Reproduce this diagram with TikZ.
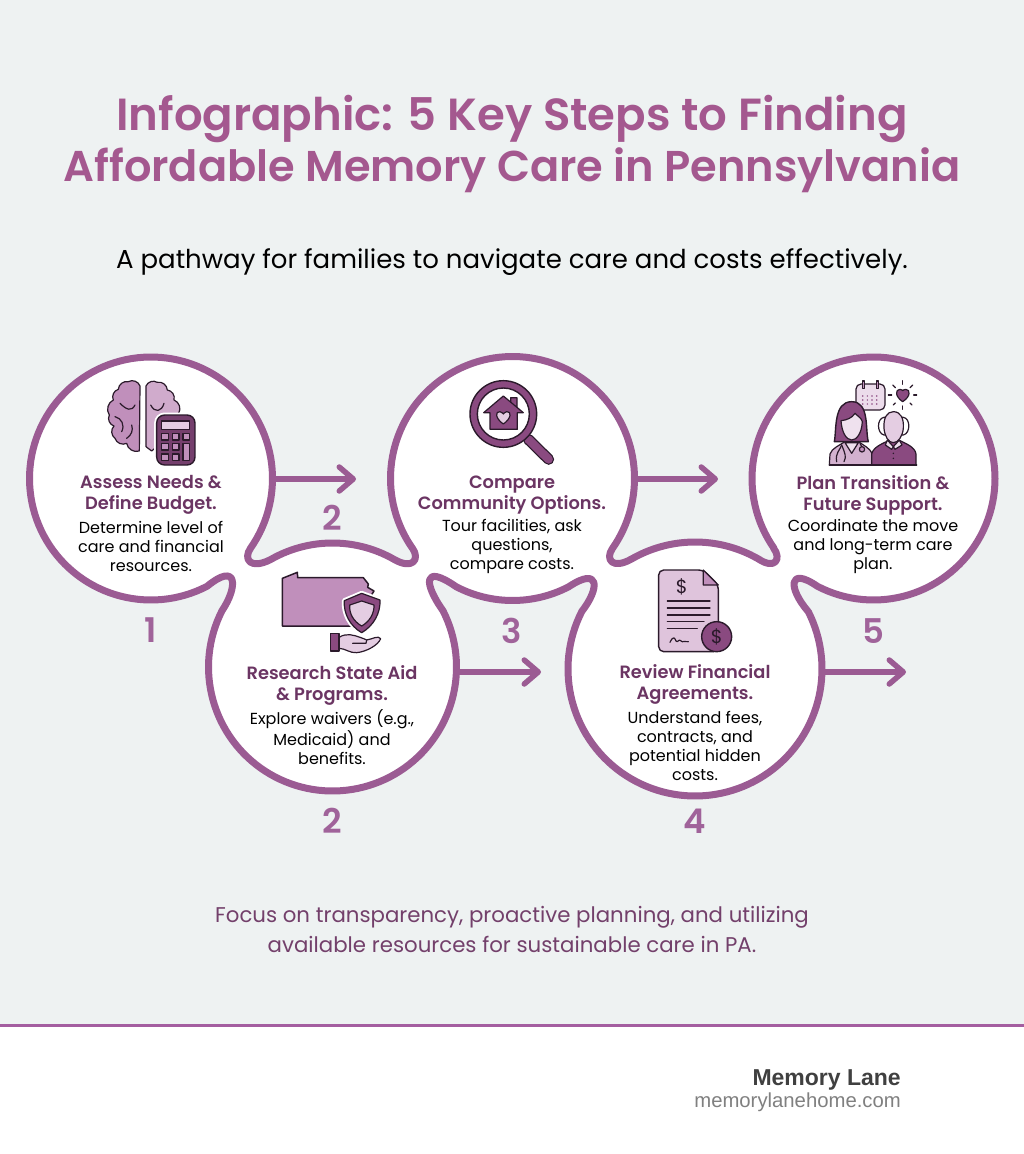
\documentclass[tikz,border=0pt]{standalone}
\usepackage{fontspec}
\usetikzlibrary{arrows.meta}
\setmainfont{Poppins}[BoldFont={Poppins SemiBold}]
\newfontfamily\footfont{Liberation Sans}
\definecolor{bgc}{HTML}{EEF2F2}
\definecolor{ringc}{HTML}{9B5B93}
\definecolor{titlec}{HTML}{A4588F}
\definecolor{headc}{HTML}{6B3563}
\definecolor{numc}{HTML}{A0639A}
\definecolor{noteC}{HTML}{73406B}
\definecolor{ruleC}{HTML}{A45EA0}
\definecolor{inkc}{HTML}{2B1A2B}
\definecolor{midc}{HTML}{8A4A80}
\definecolor{softc}{HTML}{C08FBB}
\definecolor{palec}{HTML}{E4CDE2}
\tikzset{
  x=1pt,y=-1pt,
  titletxt/.style={font=\bfseries,text=titlec,align=center,inner sep=0},
  subtxt/.style={font=\fontsize{26}{32}\selectfont,text=black,inner sep=0},
  notetxt/.style={font=\fontsize{21.3}{30}\selectfont,text=noteC,align=center,inner sep=0},
  headtxt/.style={font=\fontsize{17.8}{21}\selectfont\bfseries,text=headc,align=center,inner sep=0},
  bodytxt/.style={font=\fontsize{16}{19}\selectfont,text=black,align=center,inner sep=0},
  numtxt/.style={font=\fontsize{34}{38}\selectfont\bfseries,text=numc,inner sep=0},
  stepring/.style={circle,inner sep=0,outer sep=0,minimum size=#1},
  blob/.style={draw=ringc,fill=white,line width=7pt,line join=round},
  flowarrow/.style={draw=ringc,line width=5.5pt,line cap=round,-{Straight Barb[length=14pt,width=24pt,round]}},
  ic/.style={draw=inkc,line width=1.2pt,line join=round,line cap=round},
  halo/.style={draw=white,line width=5pt,line join=round},
}
\begin{document}
\begin{tikzpicture}
\useasboundingbox (0,0) rectangle (1024,1154);
\fill[bgc] (0,0) rectangle (1024,1025);
\fill[white] (0,1025) rectangle (1024,1154);
\draw[ruleC,line width=3pt] (0,1025) -- (1024,1025);

% titles
\node[titletxt] (title) at (512,144) {\fontsize{45}{53}\selectfont Infographic: 5 Key Steps to Finding\\[4pt]\fontsize{43.1}{53}\selectfont Affordable Memory Care in Pennsylvania};
\node[subtxt] (sub) at (512,262) {A pathway for families to navigate care and costs effectively.};

% step anchors
\node[stepring=243pt] (c1) at (151,478.5) {};
\node[stepring=248pt] (c2) at (332.5,667) {};
\node[stepring=244pt] (c3) at (512.5,478.5) {};
\node[stepring=254pt] (c4) at (695,669) {};
\node[stepring=243pt] (c5) at (873.5,478.5) {};

\coordinate (t1) at (356,479);
\coordinate (t2) at (718,479);
\coordinate (t3) at (541,672);
\coordinate (t4) at (906,672);
\draw[flowarrow] (c1.east |- t1) -- (t1);
\draw[flowarrow] (c3.east |- t2) -- (t2);
\draw[flowarrow] (c2.east |- t3) -- (t3);
\draw[flowarrow] (c4.east |- t4) -- (t4);

% joined outline
\draw[blob]
  plot[domain=62.5:395,samples=120] ({151+121.5*cos(\x)},{478.5+121.5*sin(\x)})
  .. controls (243,559) and (250,570) .. (270.5,559.6)
  -- plot[domain=-120:-60,samples=30] ({332.5+124*cos(\x)},{667+124*sin(\x)})
  .. controls (413,570) and (420,559) .. (412.6,548.4)
  -- plot[domain=145:395,samples=100] ({512.5+122*cos(\x)},{478.5+122*sin(\x)})
  .. controls (605,559) and (612,570) .. (631.5,559)
  -- plot[domain=-120:-60,samples=30] ({695+127*cos(\x)},{669+127*sin(\x)})
  .. controls (775,570) and (782,559) .. (773.5,548)
  -- plot[domain=145:477.5,samples=120] ({873.5+121.5*cos(\x)},{478.5+121.5*sin(\x)})
  .. controls (788,566) and (788,588) .. (808,611.3)
  -- plot[domain=-27:207,samples=90] ({695+127*cos(\x)},{669+127*sin(\x)})
  .. controls (600,588) and (600,566) .. (568.8,586.7)
  -- plot[domain=62.5:117.5,samples=30] ({512.5+122*cos(\x)},{478.5+122*sin(\x)})
  .. controls (422,563) and (424,584) .. (443,610.7)
  -- plot[domain=-27:207,samples=90] ({332.5+124*cos(\x)},{667+124*sin(\x)})
  .. controls (238,587) and (238,561) .. cycle;

% step texts
\node[headtxt] (h1) at (151,495) {Assess Needs \&\\Define Budget.};
\node[bodytxt] (b1) at (151,546) {Determine level of\\care and financial\\resources.};
\node[headtxt] (h2) at (332,685) {Research State Aid\\\& Programs.};
\node[bodytxt] (b2) at (332,737) {Explore waivers (e.g.,\\Medicaid) and\\benefits.};
\node[headtxt] (h3) at (512,495) {Compare\\Community Options.};
\node[bodytxt] (b3) at (512,546) {Tour facilities, ask\\questions,\\compare costs.};
\node[headtxt] (h4) at (695,684) {Review Financial\\Agreements.};
\node[bodytxt] (b4) at (695,745.5) {Understand fees,\\contracts, and\\potential hidden\\costs.};
\node[headtxt] (h5) at (873,495) {Plan Transition \&\\Future Support.};
\node[bodytxt] (b5) at (873,546) {Coordinate the move\\and long-term care\\plan.};

% numbers
\node[numtxt] (n1) at (151,630) {1};
\node[numtxt] (n2a) at (332,518) {2};
\node[numtxt] (n2b) at (332,821) {2};
\node[numtxt] (n3) at (512,631) {3};
\node[numtxt] (n4) at (695,821) {4};
\node[numtxt] (n5) at (873,631) {5};

% closing note
\node[notetxt] (note) at (512,929) {Focus on transparency, proactive planning, and utilizing\\available resources for sustainable care in PA.};

% footer
\node[font=\footfont\fontsize{23}{26}\selectfont\bfseries,text=black!75,anchor=east,inner sep=0] (brand) at (901,1080) {Memory Lane};
\node[font=\footfont\fontsize{20.3}{24}\selectfont,text=black!50,anchor=east,inner sep=0] (site) at (901,1102) {memorylanehome.com};

% ICON 1: brain and calculator
\begin{scope}[shift={(20,350)},scale=0.33333]
  \filldraw[ic,fill=softc] (360,108) to[bend right=50] (325,95) to[bend right=50] (295,118) to[bend right=50] (280,150) to[bend right=50] (268,195) to[bend right=50] (282,228) to[bend right=50] (285,265) to[bend right=50] (320,280) to[bend right=50] (358,303) -- cycle;
  \filldraw[ic,fill=softc!75] (378,108) to[bend left=50] (412,97) to[bend left=50] (442,120) to[bend left=50] (462,150) to[bend left=50] (476,190) -- (470,240) -- (395,303) -- (378,290) -- cycle;
  \draw[ic] (300,160) .. controls (320,180) and (335,185) .. (345,165);
  \draw[ic] (285,200) .. controls (305,205) and (315,225) .. (305,245);
  \draw[ic] (320,265) .. controls (335,255) and (340,240) .. (335,225);
  \draw[ic] (392,165) .. controls (405,190) and (425,185) .. (432,160);
  \filldraw[halo,fill=white,rounded corners=8pt] (410,195) rectangle (525,345);
  \filldraw[ic,fill=midc!85!black,rounded corners=8pt,line width=1.4pt] (410,195) rectangle (525,345);
  \filldraw[ic,fill=palec] (425,213) rectangle (508,238);
  \foreach \bx in {425,457}{\foreach \by in {250,280,312}{\filldraw[ic,fill=softc] (\bx,\by) rectangle ++(20,20);}}
  \filldraw[ic,fill=softc] (489,250) rectangle ++(20,20);
  \filldraw[ic,fill=softc] (489,280) rectangle (509,332);
\end{scope}

% ICON 2: state outline, shield and hand
\begin{scope}[shift={(200,540)},scale=0.33333]
  \filldraw[ic,fill=softc,line width=1.5pt] (247,258) -- (247,115) -- (292,97) -- (293,113) -- (490,113) -- (505,132) -- (503,142) -- (522,153) -- (510,172) -- (500,190) -- (470,258) -- cycle;
  \path[fill=white,draw=white,line width=5pt,line join=round] (485,160) -- (540,180) .. controls (542,220) and (520,258) .. (485,278) .. controls (450,258) and (430,220) .. (433,182) -- cycle;
  \filldraw[ic,fill=midc] (485,160) -- (540,180) .. controls (542,220) and (520,258) .. (485,278) .. controls (450,258) and (430,220) .. (433,182) -- cycle;
  \filldraw[ic,fill=palec] (485,183) -- (522,195) .. controls (523,222) and (508,245) .. (485,258) .. controls (462,245) and (447,222) .. (449,195) -- cycle;
  \filldraw[ic,fill=palec] (417,292) .. controls (440,278) and (460,285) .. (480,292) .. controls (495,297) and (500,300) .. (500,300) .. controls (515,298) and (535,285) .. (542,296) .. controls (535,315) and (500,335) .. (470,338) .. controls (450,340) and (435,325) .. (417,325) -- cycle;
  \draw[ic] (458,310) -- (498,310) -- (500,300);
  \filldraw[ic,fill=midc] (392,280) rectangle (417,333);
\end{scope}

% ICON 3: magnifier over house
\begin{scope}[shift={(380,350)},scale=0.33333]
  \draw[inkc,line width=11pt,line cap=round] (445,268) -- (506,328);
  \draw[midc,line width=8.5pt,line cap=round] (445,268) -- (506,328);
  \filldraw[ic,fill=midc,line width=1.4pt] (370,192) circle [radius=100];
  \filldraw[ic,fill=white,line width=1.4pt] (370,192) circle [radius=78];
  \filldraw[ic,fill=midc] (392,165) -- (392,143) -- (411,143) -- (411,170) -- cycle;
  \filldraw[ic,fill=midc] (330,188) -- (311,188) -- (370,138) -- (430,188) -- (412,188) -- (412,238) -- (330,238) -- cycle;
  \filldraw[ic,fill=palec] (370,222) .. controls (345,205) and (345,183) .. (360,185) .. controls (366,186) and (370,192) .. (370,192) .. controls (370,192) and (374,186) .. (380,185) .. controls (395,183) and (395,205) .. (370,222) -- cycle;
\end{scope}

% ICON 4: document with coin
\begin{scope}[shift={(560,540)},scale=0.33333]
  \filldraw[ic,fill=palec!85!softc,line width=1.4pt,rounded corners=5pt] (296,90) -- (430,90) -- (475,135) -- (475,335) -- (296,335) -- cycle;
  \filldraw[ic,fill=softc] (430,90) -- (430,135) -- (475,135) -- cycle;
  \node[font=\fontsize{19}{20}\selectfont,text=inkc,inner sep=0] (d1) at (365,140) {\$};
  \foreach \ly/\lx in {183/450,204/450,225/450,245/432,265/412}{\draw[ic] (322,\ly) -- (\lx,\ly);}
  \draw[ic] (330,307) .. controls (340,285) and (345,295) .. (348,303) .. controls (352,310) and (358,295) .. (362,302) .. controls (368,310) and (375,300) .. (385,305);
  \filldraw[ic,fill=midc,line width=1.4pt] (470,290) circle [radius=45];
  \node[font=\fontsize{19}{20}\selectfont,text=inkc,inner sep=0] (d2) at (470,290) {\$};
\end{scope}

% ICON 5: carer, elder, calendar, heart
\begin{scope}[shift={(740,350)},scale=0.33333]
  \filldraw[ic,fill=palec!70!white,rounded corners=5pt] (348,102) rectangle (435,180);
  \filldraw[ic,fill=softc] (367,93) rectangle (373,115);
  \filldraw[ic,fill=softc] (410,93) rectangle (416,115);
  \foreach \dy in {138,150,162}{\foreach \dx in {368,382,396,410}{\fill[midc] (\dx,\dy) circle [radius=2.5];}}
  \filldraw[ic,fill=midc] (488,155) .. controls (465,140) and (465,118) .. (480,118) .. controls (485,118) and (488,122) .. (488,122) .. controls (488,122) and (492,118) .. (497,118) .. controls (512,118) and (512,140) .. (488,155) -- cycle;
  \foreach \ax/\ay/\bx/\by in {488/92/488/103,458/105/466/113,518/105/510/113,445/135/455/135,530/135/521/135,460/165/466/159,516/165/510/159,488/168/488/178}{\draw[ic] (\ax,\ay) -- (\bx,\by);}
  % carer
  \filldraw[ic,fill=midc,line width=1.4pt] (283,275) .. controls (290,240) and (280,155) .. (335,155) .. controls (390,155) and (375,240) .. (385,275) -- cycle;
  \filldraw[ic,fill=softc!70!white] (268,345) -- (270,312) .. controls (275,295) and (300,285) .. (315,275) -- (335,295) -- (355,275) .. controls (370,285) and (390,295) .. (396,310) -- (396,345) -- cycle;
  \filldraw[ic,fill=palec!60!white] (315,278) -- (355,278) -- (335,310) -- cycle;
  \filldraw[ic,fill=palec!60!white] (303,212) .. controls (320,210) and (335,205) .. (345,190) .. controls (355,200) and (365,205) .. (367,215) .. controls (365,250) and (350,270) .. (335,270) .. controls (318,270) and (305,245) .. (303,212) -- cycle;
  \draw[ic] (305,285) .. controls (300,300) and (285,310) .. (290,335);
  \draw[ic] (305,285) .. controls (315,310) and (320,320) .. (312,335);
  \draw[ic] (360,280) -- (365,290);
  \filldraw[ic,fill=softc] (366,298) circle [radius=8];
  % elder
  \filldraw[ic,fill=midc] (395,345) -- (395,312) .. controls (400,290) and (430,280) .. (445,272) -- (480,272) .. controls (495,280) and (525,290) .. (528,312) -- (528,345) -- cycle;
  \filldraw[ic,fill=white] (432,255) .. controls (410,250) and (410,205) .. (432,202) -- (490,202) .. controls (512,205) and (512,250) .. (490,255) -- cycle;
  \filldraw[ic,fill=palec] (432,235) .. controls (430,205) and (440,185) .. (460,185) .. controls (482,185) and (492,205) .. (490,235) .. controls (488,258) and (475,278) .. (460,278) .. controls (445,278) and (434,258) .. (432,235) -- cycle;
  \filldraw[ic,fill=palec!60!white] (442,270) -- (460,290) -- (478,270) -- (486,285) -- (465,298) -- (460,290) -- (455,298) -- (436,285) -- cycle;
  \fill[inkc] (460,310) circle [radius=2.5] (460,325) circle [radius=2.5];
  \draw[ic,line width=1.5pt] (268,345) -- (530,345);
\end{scope}
\end{tikzpicture}
\end{document}
